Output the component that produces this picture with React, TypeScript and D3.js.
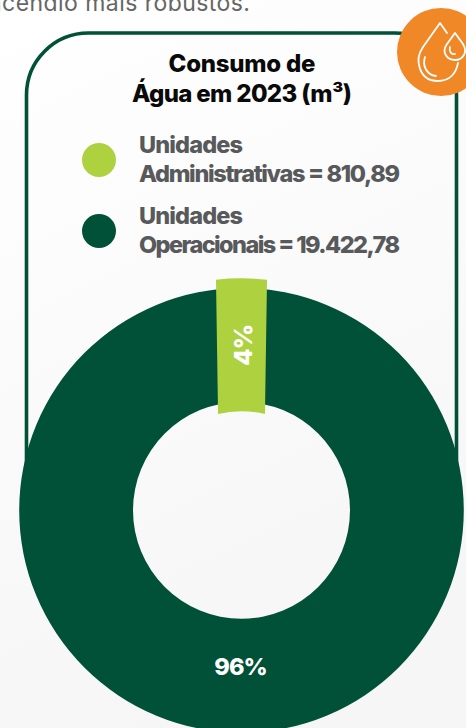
import React from "react";
import * as d3 from "d3";

const W = 466;
const H = 728;
const categories = ["Unidades Administrativas", "Unidades Operacionais"];
const waterValues = [810.89, 19422.78];
const sliceLabels = ["4%", "96%"];
const legendLines = [
  ["Unidades", "Administrativas = 810,89"],
  ["Unidades", "Operacionais = 19.422,78"],
];
const titleLines = ["Consumo de", "Água em 2023 (m³)"];
const introText = "incêndio mais robustos.";
const colors = ["#aed13f", "#005137"];
const FONT = "Inter, 'Open Sans', sans-serif";
const titleWidths = [147, 220];
const legendWidths = [
  [104, 261],
  [104, 261],
];

const cx = 241.5;
const cy = 510.3;
const outerR = 222.3;
const innerR = 108.5;
const hiOuter = 232;
const hiInner = 99;

function highlightPath(share: number) {
  // the pale slice is drawn as a nearly straight band, wider than the ring
  const half = share * Math.PI;
  const outerHalf = half * 0.875;
  const innerHalf = half * 1.9;
  const p = d3.path();
  const t = -Math.PI / 2;
  p.arc(0, 0, hiOuter, t - outerHalf, t + outerHalf, false);
  p.arc(0, 0, hiInner, t + innerHalf, t - innerHalf, true);
  p.closePath();
  return p.toString();
}

function cardPath() {
  const p = d3.path();
  const l = 26.5, r = 456.5, t = 33, b = 480, rad = 62;
  p.moveTo(l, b);
  p.lineTo(l, t + rad);
  p.arcTo(l, t, l + rad, t, rad);
  p.lineTo(r - rad, t);
  p.arcTo(r, t, r, t + rad, rad);
  p.lineTo(r, b);
  return p.toString();
}

export default function App() {
  const total = d3.sum(waterValues);
  const share = waterValues[0] / total;
  const ring = d3.arc<any>().innerRadius(innerR).outerRadius(outerR);
  const ringPath = ring({ startAngle: 0, endAngle: 2 * Math.PI }) as string;
  const legendY = d3.scalePoint<string>().domain(categories).range([160, 231]);

  return (
    <svg
      width={W}
      height={H}
      viewBox={`0 0 ${W} ${H}`}
      style={{ position: "absolute", left: 0, top: 0, display: "block" }}
    >
      <defs>
        <linearGradient id="bg" x1="0" y1="0" x2="0.3" y2="1">
          <stop offset="0" stopColor="#ffffff" />
          <stop offset="1" stopColor="#f6f6f6" />
        </linearGradient>
      </defs>
      <rect width={W} height={H} fill="url(#bg)" />
      <text x={-18} y={10.5} textLength={268} lengthAdjust="spacing" fontFamily={FONT} fontWeight={400} fontSize={23} fill="#666666">
        {introText}
      </text>

      <path d={cardPath()} fill="none" stroke={colors[1]} strokeWidth={3.6} />

      <g fontFamily={FONT} fontWeight={800} fontSize={24} fill="#0a0a0a">
        {titleLines.map((l, i) => (
          <text key={l} x={242 - titleWidths[i] / 2} y={71.8 + i * 29.7} textLength={titleWidths[i]} lengthAdjust="spacing">{l}</text>
        ))}
      </g>

      {categories.map((c, i) => (
        <g key={c}>
          <circle cx={99} cy={legendY(c)} r={17} fill={colors[i]} />
          {legendLines[i].map((l, j) => (
            <text
              key={l}
              x={139}
              y={(legendY(c) as number) - 7 + j * 28.8}
              textLength={legendWidths[i][j]}
              lengthAdjust="spacing"
              fontFamily={FONT}
              fontWeight={800}
              fontSize={23.5}
              fill="#58595b"
            >
              {l}
            </text>
          ))}
        </g>
      ))}

      <g transform={`translate(${cx},${cy})`}>
        <path d={ringPath} fill={colors[1]} />
        <path d={highlightPath(share)} fill={colors[0]} />
        <text
          transform={`translate(1,${-165}) rotate(-90)`}
          textAnchor="middle"
          dominantBaseline="central"
          fontFamily={FONT}
          fontWeight={800}
          fontSize={25}
          letterSpacing={-1}
          fill="#ffffff"
        >
          {sliceLabels[0]}
        </text>
        <text x={-1} y={165} textAnchor="middle" fontFamily={FONT} fontWeight={800} fontSize={23.5} letterSpacing={-1} fill="#ffffff">
          {sliceLabels[1]}
        </text>
      </g>

      <circle cx={441} cy={52} r={44} fill="#f08828" />
      <g fill="none" stroke="#ffffff" strokeWidth={1.8} strokeLinecap="round" strokeLinejoin="round">
        <path d="M447 33 L440 23 L423 47 C414 60 419 81 438 81 C449 81 456 74 458 63" />
        <path d="M455 33 L447 44 C441 52 447 60 455 60 C463 60 468 52 463 44 Z" />
        <path d="M425 57 C422 66 427 75 436 76" />
        <path d="M450 47 C449 51 451 55 455 54" />
      </g>
    </svg>
  );
}
